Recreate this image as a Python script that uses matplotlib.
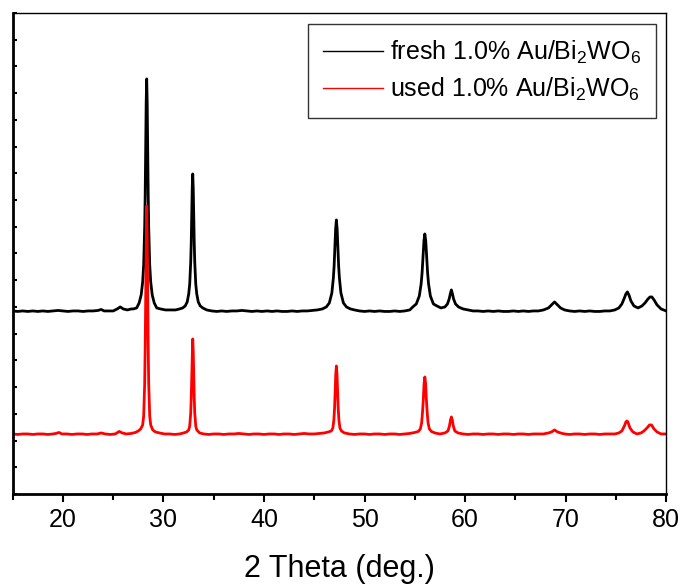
"""
XRD patterns of fresh and used 1.0% Au/Bi2WO6.
"""
import matplotlib
matplotlib.use('Agg')
import matplotlib.pyplot as plt
from matplotlib.lines import Line2D
from matplotlib.ticker import MultipleLocator, NullFormatter
import numpy as np

plt.rcParams['font.family'] = ['Liberation Sans', 'DejaVu Sans']
plt.rcParams['mathtext.default'] = 'regular'

# 2 theta (deg.) and intensity (arbitrary units)
fresh_x = [15.0, 15.5, 16.0, 16.5, 17.0, 17.5, 18.0, 18.5, 19.0, 19.5, 20.0, 20.5,
           21.0, 21.5, 22.0, 22.5, 23.0, 23.5, 23.8, 24.1, 24.6, 25.0, 25.4, 25.7,
           26.0, 26.4, 26.8, 27.0, 27.33, 27.58, 27.78, 27.93, 28.03, 28.13, 28.18,
           28.23, 28.28, 28.33, 28.38, 28.43, 28.48, 28.53, 28.63, 28.73, 28.88,
           29.08, 29.33, 29.7, 30.2, 30.7, 31.2, 31.6, 31.91, 32.16, 32.36, 32.51,
           32.61, 32.71, 32.76, 32.81, 32.86, 32.91, 32.96, 33.01, 33.06, 33.11,
           33.21, 33.31, 33.46, 33.66, 33.91, 34.3, 34.8, 35.3, 35.8, 36.3, 36.8,
           37.3, 37.8, 38.3, 38.8, 39.3, 39.8, 40.3, 40.8, 41.3, 41.8, 42.3, 42.8,
           43.3, 43.8, 44.3, 44.8, 45.3, 45.8, 46.2, 46.5, 46.75, 46.9, 46.975,
           47.05, 47.125, 47.2, 47.275, 47.35, 47.425, 47.5, 47.65, 47.9, 48.2,
           48.6, 49.0, 49.5, 50.0, 50.5, 51.0, 51.5, 52.0, 52.5, 53.0, 53.5, 54.0,
           54.5, 54.8, 55.15, 55.45, 55.63, 55.725, 55.82, 55.91, 56.0, 56.09,
           56.18, 56.275, 56.37, 56.55, 56.85, 57.2, 57.6, 58.0, 58.25, 58.42,
           58.53, 58.64, 58.75, 58.86, 59.05, 59.35, 59.8, 60.3, 60.8, 61.3, 61.8,
           62.3, 62.8, 63.3, 63.8, 64.3, 64.8, 65.3, 65.8, 66.3, 66.8, 67.3, 67.8,
           68.3, 68.6, 68.9, 69.2, 69.5, 69.9, 70.4, 70.9, 71.4, 71.9, 72.4, 72.9,
           73.4, 73.9, 74.4, 74.9, 75.3, 75.6, 75.85, 76.0, 76.15, 76.3, 76.5,
           76.8, 77.2, 77.6, 77.9, 78.2, 78.4, 78.58, 78.8, 79.1, 79.5, 80.0]
fresh_y = [183, 182.5, 183, 182.5, 183, 182.5, 183, 182.5, 183, 183.5, 183, 182.5,
           183, 183, 182.5, 183, 183, 183.5, 184.5, 183, 183, 183, 185, 187,
           185, 184, 185, 185, 186, 191, 199, 212, 229, 267, 299,
           344, 392, 415, 392, 344, 299, 267, 229, 212, 199,
           191, 186, 185, 184, 184, 184, 185, 186, 188, 192, 200,
           210, 232, 251, 278, 306, 320, 306, 278, 251, 232,
           210, 200, 192, 188, 186, 184, 183, 182.5, 183, 182.5, 183,
           183, 183.5, 183, 182.5, 183, 182.5, 183, 182.5, 183, 182.5, 182.5, 183,
           182.5, 183, 183, 183.5, 184, 185, 187, 191, 201, 216, 228,
           246, 265, 274, 265, 246, 228, 216, 201, 191, 187,
           185, 184, 183, 182.5, 183, 182.5, 183, 182.5, 182.5, 183, 182.5, 183,
           184, 187, 190, 198, 210, 221, 237, 253, 260, 253,
           237, 221, 210, 198, 190, 188, 186, 187, 190, 195,
           200, 204, 200, 195, 190, 187, 185, 184, 183, 183, 182.5,
           183, 182.5, 183, 182.5, 182.5, 183, 182.5, 183, 182.5, 183, 183, 184,
           186, 189, 192, 189, 186, 184, 183, 182.5, 183, 182.5, 183, 182.5,
           182.5, 183, 183, 184, 186, 190, 196, 200, 202, 199, 193,
           188, 186, 188, 191, 195, 197, 197, 194, 189, 185, 183]

used_x = [15.0, 15.5, 16.0, 16.5, 17.0, 17.5, 18.0, 18.5, 19.0, 19.3, 19.6, 19.9,
          20.4, 20.9, 21.4, 21.9, 22.4, 22.9, 23.4, 23.8, 24.2, 24.7, 25.2, 25.6,
          25.9, 26.3, 26.8, 27.2, 27.5, 27.73, 27.93, 28.03, 28.13, 28.18, 28.23,
          28.28, 28.33, 28.38, 28.43, 28.48, 28.53, 28.63, 28.73, 28.93, 29.2,
          29.6, 30.1, 30.6, 31.1, 31.6, 32.0, 32.3, 32.51, 32.61, 32.71, 32.76,
          32.81, 32.86, 32.91, 32.96, 33.01, 33.06, 33.11, 33.21, 33.31, 33.6,
          34.0, 34.5, 35.0, 35.5, 36.0, 36.5, 37.0, 37.5, 38.0, 38.5, 39.0, 39.5,
          40.0, 40.5, 41.0, 41.5, 42.0, 42.5, 43.0, 43.5, 44.0, 44.5, 45.0, 45.5,
          46.0, 46.4, 46.7, 46.85, 46.95, 47.02, 47.08, 47.14, 47.2, 47.26, 47.32,
          47.38, 47.45, 47.55, 47.7, 48.0, 48.5, 49.0, 49.5, 50.0, 50.5, 51.0,
          51.5, 52.0, 52.5, 53.0, 53.5, 54.0, 54.5, 55.0, 55.35, 55.55, 55.68,
          55.77, 55.85, 55.92, 56.0, 56.08, 56.15, 56.23, 56.32, 56.45, 56.65,
          57.0, 57.5, 58.0, 58.3, 58.45, 58.55, 58.64, 58.73, 58.83, 58.98, 59.3,
          59.8, 60.3, 60.8, 61.3, 61.8, 62.3, 62.8, 63.3, 63.8, 64.3, 64.8, 65.3,
          65.8, 66.3, 66.8, 67.3, 67.8, 68.3, 68.6, 68.9, 69.2, 69.5, 69.9, 70.4,
          70.9, 71.4, 71.9, 72.4, 72.9, 73.4, 73.9, 74.4, 74.9, 75.3, 75.6, 75.85,
          76.0, 76.1, 76.2, 76.4, 76.7, 77.1, 77.5, 77.8, 78.1, 78.35, 78.55,
          78.8, 79.1, 79.5, 80.0]
used_y = [60, 59.5, 60, 60, 59.5, 60, 60, 59.5, 60, 60.5, 61.5, 60,
          60, 59.5, 60, 60, 59.5, 60, 60, 61, 60, 59.5, 60, 62.5,
          61, 60, 60.5, 61.5, 63, 65, 69, 78, 110, 147, 197,
          256, 288, 256, 197, 147, 110, 78, 69, 64, 62,
          61, 60, 60, 59.5, 60, 61, 62, 64, 68, 81, 96,
          117, 142, 155, 142, 117, 96, 81, 68, 64, 61,
          60, 59.5, 60, 60, 59.5, 60, 60, 60.5, 60, 59.5, 60, 60,
          59.5, 60, 60, 59.5, 60, 60, 59.5, 60, 60.5, 60, 60, 60.5,
          61, 62, 63, 66, 74, 86, 102, 120, 128, 120, 102,
          86, 74, 66, 63, 61, 60, 59.5, 60, 60, 59.5, 60,
          60, 59.5, 60, 60, 59.5, 60, 60.5, 61.5, 62.5, 65, 71,
          82, 95, 110, 117, 110, 95, 82, 71, 65, 62.5,
          61, 60, 61, 63, 68, 74, 77, 74, 68, 63, 61,
          60, 59.5, 60, 60, 59.5, 60, 60, 59.5, 60, 60, 59.5, 60,
          60, 59.5, 60, 60, 60, 61, 62, 64, 62, 61, 60, 59.5,
          60, 60, 59.5, 60, 60, 59.5, 60, 60, 60, 61, 63, 68,
          72, 73, 72, 66, 62, 60, 61, 63, 66, 69, 69,
          65, 62, 60, 60]

labels = [r'fresh 1.0% Au/Bi$_2$WO$_6$', r'used 1.0% Au/Bi$_2$WO$_6$']
colors = ['black', 'red']

fig = plt.figure(figsize=(6.86, 5.87), dpi=100)
ax = fig.add_axes([0.0185, 0.1585, 0.9525, 0.8195])

ax.plot(fresh_x, fresh_y, color=colors[0], lw=2.0)
ax.plot(used_x, used_y, color=colors[1], lw=2.0)

ax.set_xlim(15, 80)
ax.set_ylim(0, 481)
ax.xaxis.set_major_locator(MultipleLocator(10))
ax.xaxis.set_minor_locator(MultipleLocator(5))
ax.yaxis.set_major_locator(MultipleLocator(481 / 18))
ax.yaxis.set_major_formatter(NullFormatter())

ax.tick_params(axis='x', which='major', direction='out', length=6, width=1.5,
               labelsize=18, pad=4)
ax.tick_params(axis='x', which='minor', direction='out', length=4, width=1.5)
ax.tick_params(axis='y', which='major', direction='in', length=3, width=1.5)

ax.spines['left'].set_linewidth(2)
ax.spines['bottom'].set_linewidth(2)
ax.spines['top'].set_linewidth(1)
ax.spines['right'].set_linewidth(1)

ax.set_xlabel('2 Theta (deg.)', fontsize=22, labelpad=16)

handles = [Line2D([], [], color=c, lw=1.0) for c in colors]
leg = ax.legend(handles, labels, loc='upper right', bbox_to_anchor=(0.985, 0.977),
                borderaxespad=0, fontsize=18, frameon=True, fancybox=False,
                edgecolor='black', handlelength=2.4, handletextpad=0.3,
                labelspacing=0.4, borderpad=0.6)
leg.get_frame().set_linewidth(1)

fig.savefig('out.png', dpi=100)
